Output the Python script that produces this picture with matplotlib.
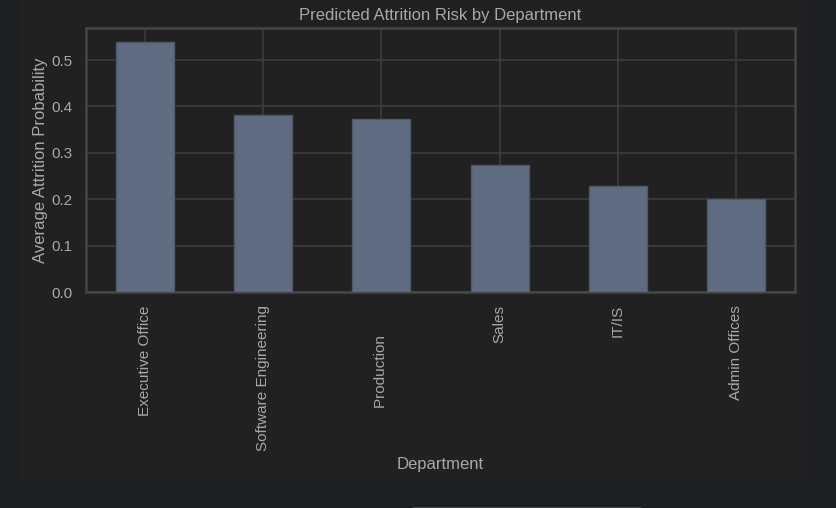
import matplotlib
matplotlib.use("Agg")
import matplotlib.pyplot as plt
from matplotlib.patches import Rectangle
from matplotlib.lines import Line2D

departments = ["Executive Office", "Software Engineering", "Production       ", "Sales", "IT/IS", "Admin Offices"]
attrition = [0.539, 0.381, 0.373, 0.274, 0.228, 0.200]
yticks = [0.0, 0.1, 0.2, 0.3, 0.4, 0.5]

plt.rcParams['font.family'] = ['Liberation Sans', 'DejaVu Sans']
TEXT = '#a8a8a8'
W, H = 837, 508
fig = plt.figure(figsize=(W / 100, H / 100), dpi=100, facecolor='#1e1f22')
fig.patches.append(Rectangle((20 / W, (H - 480) / H), 786 / W, 480 / H, transform=fig.transFigure,
                             facecolor='#212121', edgecolor='none', zorder=-10))
fig.lines.append(Line2D([414 / W, 640 / W], [0.5 / H, 0.5 / H], transform=fig.transFigure,
                        color='#444548', linewidth=1.5, zorder=-5))

ax = fig.add_axes([86 / W, (H - 292) / H, (795 - 86) / W, (292 - 28) / H])
ax.set_facecolor('#212121')
x = list(range(len(departments)))
ax.bar(x, attrition, width=0.49, color='#5f6b80', edgecolor='#4d586b', linewidth=1, zorder=3)
ax.set_xlim(-0.5, len(departments) - 0.5)
ax.set_ylim(0, max(attrition) * 1.056)
ax.set_xticks(x)
ax.set_xticklabels(departments, rotation=90)
ax.set_yticks(yticks)
ax.set_yticklabels([f"{v:.1f}" for v in yticks])
ax.grid(True, color='#3c3c3c', linewidth=1.2, zorder=0)
ax.set_axisbelow(True)
for s in ax.spines.values():
    s.set_color('#464646')
    s.set_linewidth(1.8)
ax.tick_params(axis='both', length=0, colors=TEXT, labelsize=11)
ax.tick_params(axis='x', pad=9.5)
ax.tick_params(axis='y', pad=10)
ax.set_title("Predicted Attrition Risk by Department", color=TEXT, fontsize=12, pad=6)
ax.set_xlabel("Department", color=TEXT, fontsize=12, labelpad=4.5)
ax.set_ylabel("Average Attrition Probability", color=TEXT, fontsize=12, labelpad=2.5)

fig.savefig("out.png", dpi=100, facecolor=fig.get_facecolor())
